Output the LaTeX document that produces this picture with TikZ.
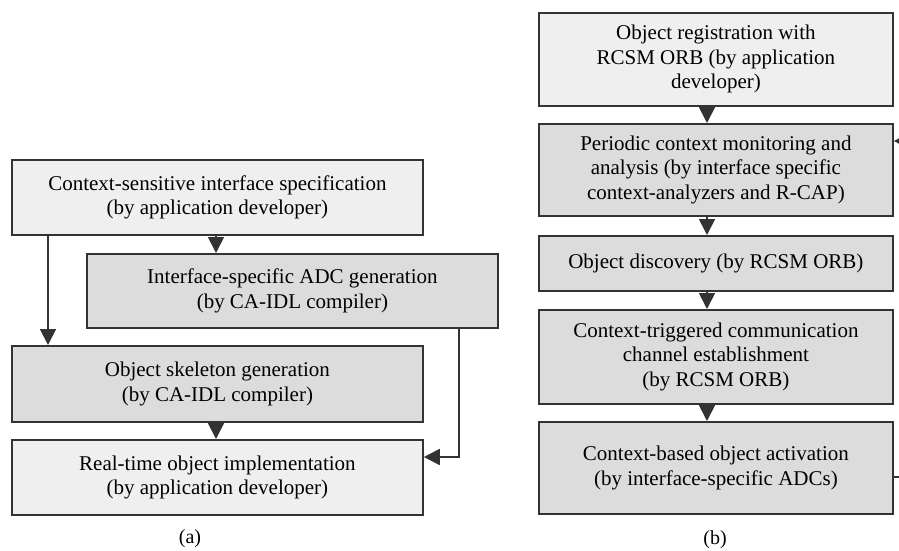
\documentclass[tikz,border=0pt]{standalone}
\usepackage{fontspec}
\setmainfont{Liberation Serif}
\usetikzlibrary{arrows.meta}
\definecolor{boxlight}{HTML}{EFEFEF}
\definecolor{boxdark}{HTML}{DCDCDC}
\definecolor{edge}{HTML}{333333}
\tikzset{
  box/.style={draw=edge, line width=1.8pt, rectangle, inner sep=0pt,
    anchor=north west, align=center, font=\fontsize{21}{24.5}\selectfont},
  light/.style={box, fill=boxlight},
  dark/.style={box, fill=boxdark},
  arr/.style={draw=edge, line width=1.8pt, -{Triangle[width=16pt,length=16pt]}},
  caption/.style={font=\fontsize{20}{24}\selectfont}
}
\begin{document}
\begin{tikzpicture}[x=1pt,y=-1pt]
\clip (0,0) rectangle (899,551);
\fill[white] (0,0) rectangle (899,551);

% (a) compile-time steps
\node[light, minimum width=411pt, minimum height=75pt] (spec) at (11,159)
  {Context-sensitive interface specification\\(by application developer)};
\node[dark, minimum width=411pt, minimum height=74pt] (adc) at (86,253)
  {Interface-specific ADC generation\\(by CA-IDL compiler)};
\node[dark, minimum width=411pt, minimum height=76pt] (skel) at (11,345)
  {Object skeleton generation\\(by CA-IDL compiler)};
\node[light, minimum width=411pt, minimum height=75pt] (impl) at (11,439)
  {Real-time object implementation\\(by application developer)};

\coordinate (xa) at (216,0);
\coordinate (xl) at (48,0);
\coordinate (xr) at (459,0);
\coordinate (yr) at (0,457);
\draw[arr] (xa |- spec.south) -- (xa |- adc.north);
\draw[arr] (xl |- spec.south) -- (xl |- skel.north);
\draw[arr] (xa |- skel.south) -- (xa |- impl.north);
\draw[arr] (xr |- adc.south) -- (xr |- yr) -- (impl.east |- yr);

\node[caption] (capa) at (190,539) {(a)};

% (b) run-time steps
\node[light, minimum width=354pt, minimum height=93pt] (reg) at (538,12)
  {Object registration with\\RCSM ORB (by application\\developer)};
\node[dark, minimum width=354pt, minimum height=92pt] (mon) at (538,123)
  {Periodic context monitoring and\\analysis (by interface specific\\context-analyzers and R-CAP)};
\node[dark, minimum width=354pt, minimum height=55pt] (disc) at (538,235)
  {Object discovery (by RCSM ORB)};
\node[dark, minimum width=354pt, minimum height=94pt] (chan) at (538,309)
  {Context-triggered communication\\channel establishment\\(by RCSM ORB)};
\node[dark, minimum width=354pt, minimum height=92pt] (act) at (538,421)
  {Context-based object activation\\(by interface-specific ADCs)};

\coordinate (xb) at (707,0);
\draw[arr] (xb |- reg.south) -- (xb |- mon.north);
\draw[arr] (xb |- mon.south) -- (xb |- disc.north);
\draw[arr] (xb |- disc.south) -- (xb |- chan.north);
\draw[arr] (xb |- chan.south) -- (xb |- act.north);

% feedback loop running past the right edge
\coordinate (yout) at (0,477);
\coordinate (yin) at (0,141);
\coordinate (xloop) at (915,0);
\draw[arr] (act.east |- yout) -- (xloop |- yout) -- (xloop |- yin) -- (mon.east |- yin);

\node[caption] (capb) at (715,540) {(b)};
\end{tikzpicture}
\end{document}
